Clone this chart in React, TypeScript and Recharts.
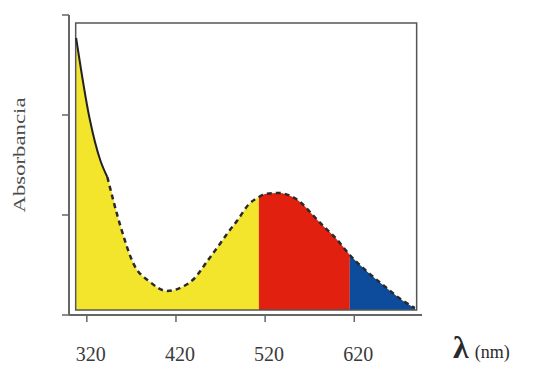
import { ComposedChart, Area, Line, XAxis, YAxis, ReferenceArea, Label } from 'recharts'

// wavelength (nm) and absorbance
const wavelengths = [308, 323, 335, 343, 358, 372, 391, 410, 429, 440, 456, 470, 478, 490, 501, 513, 520, 535, 553, 583, 600, 615, 635, 655, 675, 688]
const absorbance = [2.77, 1.97, 1.55, 1.38, 0.88, 0.52, 0.33, 0.24, 0.29, 0.36, 0.55, 0.72, 0.82, 0.96, 1.1, 1.18, 1.21, 1.22, 1.17, 0.91, 0.76, 0.6, 0.43, 0.28, 0.14, 0.07]

const redStart = 513
const blueStart = 615
const solidEnd = 343

const xTicks = [320, 420, 520, 620]
const yTicks = [0, 1, 2, 3]

const data = wavelengths.map((w, i) => {
  const a = absorbance[i]
  return {
    w,
    solid: w <= solidEnd ? a : null,
    dashed: w >= solidEnd ? a : null,
    yellow: w <= redStart ? a : null,
    red: w >= redStart && w <= blueStart ? a : null,
    blue: w >= blueStart ? a : null,
  }
})

const axisColor = '#666'
const serif = '"Liberation Serif", "DejaVu Serif", serif'

export default function App() {
  return (
    <ComposedChart width={536} height={359} data={data} margin={{ top: 7, right: 122, bottom: 2, left: 1 }}>
      <XAxis
        type="number"
        dataKey="w"
        domain={[300, 696]}
        ticks={xTicks}
        allowDataOverflow
        height={50}
        tickSize={7}
        tickMargin={25}
        axisLine={{ stroke: axisColor, strokeWidth: 2 }}
        tickLine={{ stroke: axisColor, strokeWidth: 1.5 }}
        tick={{ fontFamily: serif, fontSize: 20, fill: '#3a3a3a', dx: 4 }}
      >
        <Label
          content={() => (
            <text x={445} y={350} fontFamily={serif} fill="#2a2a2a">
              <tspan fontSize={32} fontWeight="bold">λ</tspan>
              <tspan fontSize={18} dx={6}>(nm)</tspan>
            </text>
          )}
        />
      </XAxis>
      <YAxis
        type="number"
        domain={[0, 3]}
        ticks={yTicks}
        width={60}
        tickSize={7}
        tickFormatter={() => ''}
        axisLine={{ stroke: axisColor, strokeWidth: 2 }}
        tickLine={{ stroke: axisColor, strokeWidth: 1.5 }}
      >
        <Label
          content={() => (
            <text
              x={17}
              y={147}
              transform="rotate(-90, 17, 147)"
              textAnchor="middle"
              fontFamily={serif}
              fontSize={17}
              fill="#4a4a4a"
              textLength={115}
              lengthAdjust="spacingAndGlyphs"
            >
              Absorbancia
            </text>
          )}
        />
      </YAxis>
      <Area type="monotone" dataKey="yellow" stroke="none" fill="#f3e52c" fillOpacity={1} baseValue={0.05} isAnimationActive={false} />
      <Area type="monotone" dataKey="red" stroke="none" fill="#e2200f" fillOpacity={1} baseValue={0.05} isAnimationActive={false} />
      <Area type="monotone" dataKey="blue" stroke="none" fill="#0d4c9c" fillOpacity={1} baseValue={0.05} isAnimationActive={false} />
      <ReferenceArea x1={307.5} x2={690} y1={0.05} y2={2.92} fill="none" stroke="#555" strokeWidth={1.5} ifOverflow="visible" />
      <Line type="monotone" dataKey="solid" stroke="#222" strokeWidth={2} dot={false} isAnimationActive={false} />
      <Line type="monotone" dataKey="dashed" stroke="#2a2a2a" strokeWidth={2.5} strokeDasharray="5 4" dot={false} isAnimationActive={false} />
    </ComposedChart>
  )
}
